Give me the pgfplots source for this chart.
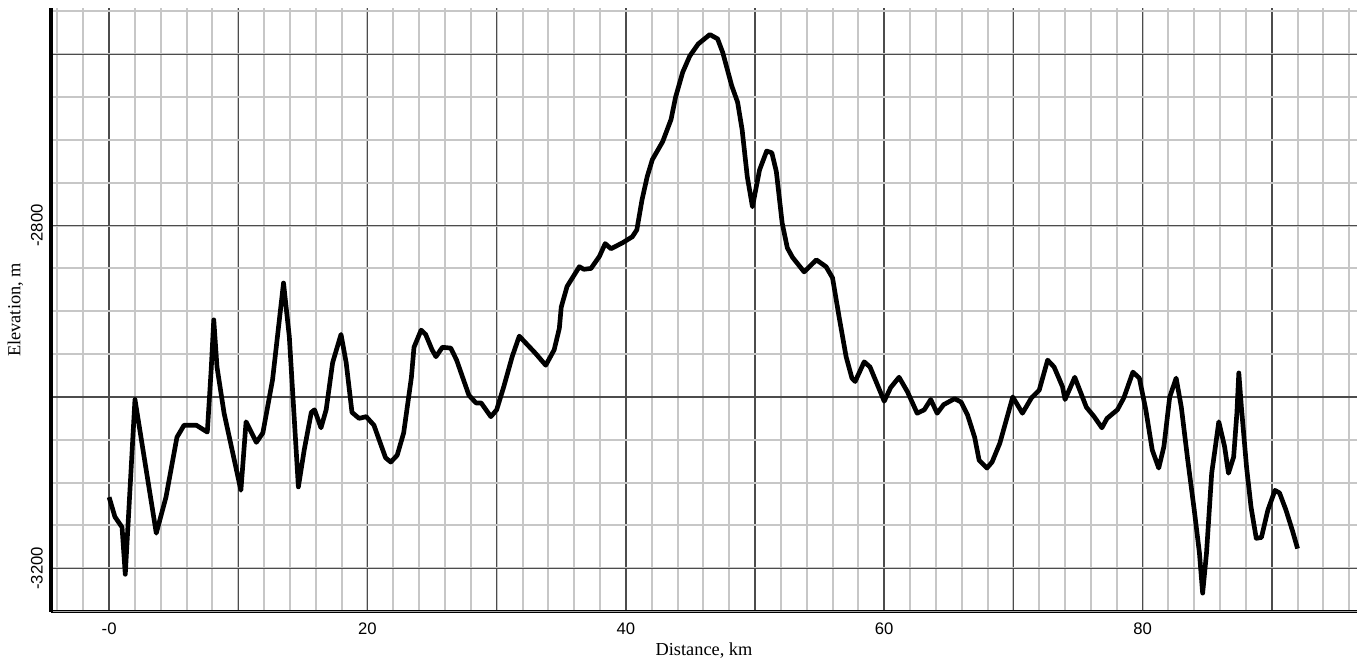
\documentclass[border=0pt]{standalone}
\usepackage{fontspec}
\setmainfont{Liberation Serif}
\newfontfamily\tickfont{Liberation Sans}
\usepackage{pgfplots}
\pgfplotsset{compat=1.18}
\begin{document}
\begin{tikzpicture}
\begin{axis}[
 scale only axis, width=783.6pt, height=362.4pt,
 xmin=-4.5, xmax=96.6, ymin=-3251, ymax=-2546,
 axis x line*=bottom, axis y line*=left,
 x axis line style={-, black, line width=0.6pt, double=gray!70, double distance=0.6pt},
 y axis line style={-, black, line width=2.4pt},
 xtick={0,10,...,90}, xticklabels={-0,,20,,40,,60,,80,},
 ytick={-3200,-3000,-2800,-2600}, yticklabels={-3200,,-2800,},
 minor xtick={-4,-2,...,96}, minor ytick={-3250,-3200,...,-2550},
 major tick length=0pt, minor tick length=0pt,
 grid=both,
 major grid style={draw=black!70, line width=0.9pt},
 minor grid style={draw=black!22, line width=1.2pt},
 xticklabel style={font=\tickfont\fontsize{10}{12}\selectfont, anchor=north, inner sep=0pt, yshift=-6.5pt},
 yticklabel style={font=\tickfont\fontsize{10}{12}\selectfont, rotate=90, anchor=south, inner sep=0pt, yshift=4.8pt},
 xlabel={Distance, km}, ylabel={Elevation, m},
 xlabel style={at={(axis description cs:0.5,-0.063)}, anchor=center, font=\fontsize{11}{13}\selectfont},
 ylabel style={at={(axis description cs:-0.0273,0.5)}, anchor=center, font=\fontsize{11}{13}\selectfont},
]
\addplot[black, line width=2.8pt, line join=round, mark=none] coordinates {
(0,-3117) (0.45,-3140) (1.0,-3152) (1.25,-3207) (2.0,-3003) (3.65,-3159) (4.4,-3117)
(5.25,-3047) (5.8,-3033) (6.75,-3033) (7.6,-3041) (7.9,-2968) (8.1,-2910) (8.35,-2965)
(8.9,-3019) (10.2,-3109) (10.6,-3029) (11.4,-3053) (11.9,-3042) (12.65,-2980) (13.5,-2867)
(13.95,-2930) (14.65,-3105) (15.1,-3062) (15.65,-3018) (15.9,-3015) (16.4,-3036) (16.8,-3015)
(17.3,-2960) (17.95,-2927) (18.35,-2960) (18.8,-3018) (19.35,-3025) (19.9,-3023) (20.5,-3033)
(20.9,-3050) (21.4,-3071) (21.8,-3076) (22.3,-3068) (22.8,-3042) (23.4,-2977) (23.6,-2942)
(24.15,-2922) (24.5,-2927) (25.0,-2945) (25.3,-2953) (25.8,-2942) (26.45,-2943) (26.9,-2957)
(27.85,-2998) (28.4,-3007) (28.8,-3007) (29.55,-3023) (30.0,-3015) (30.55,-2988) (31.2,-2953)
(31.75,-2929) (33.0,-2949) (33.8,-2963) (34.45,-2945) (34.85,-2920) (35.0,-2895) (35.45,-2871)
(36.4,-2848) (36.75,-2851) (37.3,-2850) (37.95,-2836) (38.4,-2821) (38.85,-2827) (39.75,-2820)
(40.5,-2813) (40.85,-2805) (41.25,-2770) (41.65,-2743) (42.05,-2723) (42.85,-2702) (43.5,-2676)
(43.85,-2650) (44.4,-2621) (44.95,-2602) (45.6,-2588) (46.5,-2577) (47.1,-2582) (47.5,-2598)
(48.2,-2637) (48.65,-2656) (49.0,-2688) (49.4,-2743) (49.8,-2778) (50.35,-2735) (50.9,-2713)
(51.3,-2715) (51.65,-2737) (52.1,-2797) (52.5,-2826) (52.9,-2837) (53.8,-2854) (54.75,-2840)
(55.5,-2848) (56.0,-2861) (56.5,-2906) (57.05,-2953) (57.5,-2978) (57.75,-2982) (58.45,-2959)
(58.9,-2965) (60.0,-3005) (60.5,-2989) (61.15,-2977) (61.8,-2994) (62.55,-3019) (63.1,-3015)
(63.6,-3003) (64.1,-3019) (64.6,-3009) (65.45,-3002) (65.95,-3006) (66.45,-3021) (67.0,-3047)
(67.35,-3074) (67.95,-3083) (68.35,-3076) (68.95,-3054) (69.45,-3027) (69.95,-3000) (70.7,-3019)
(71.4,-3001) (72.0,-2992) (72.65,-2957) (73.15,-2965) (73.8,-2988) (74.0,-3003) (74.75,-2977)
(75.65,-3012) (76.25,-3023) (76.85,-3036) (77.25,-3025) (78.05,-3015) (78.55,-3001) (79.25,-2971)
(79.75,-2978) (80.25,-3015) (80.75,-3062) (81.25,-3083) (81.65,-3058) (82.1,-3000) (82.6,-2978)
(83.0,-3012) (83.5,-3074) (84.0,-3132) (84.4,-3182) (84.65,-3229) (84.95,-3182) (85.35,-3089)
(85.6,-3062) (85.9,-3029) (86.35,-3058) (86.65,-3089) (87.05,-3070) (87.3,-3019) (87.45,-2972)
(87.65,-3012) (88.05,-3082) (88.4,-3129) (88.8,-3165) (89.2,-3164) (89.7,-3132) (90.25,-3109)
(90.6,-3112) (91.1,-3132) (91.6,-3156) (92.0,-3177)
};
\end{axis}
\pgfresetboundingbox
\path ([xshift=-30.6pt,yshift=-30pt]current axis.south west) rectangle ([xshift=3pt,yshift=4.8pt]current axis.north east);
\end{tikzpicture}
\end{document}
